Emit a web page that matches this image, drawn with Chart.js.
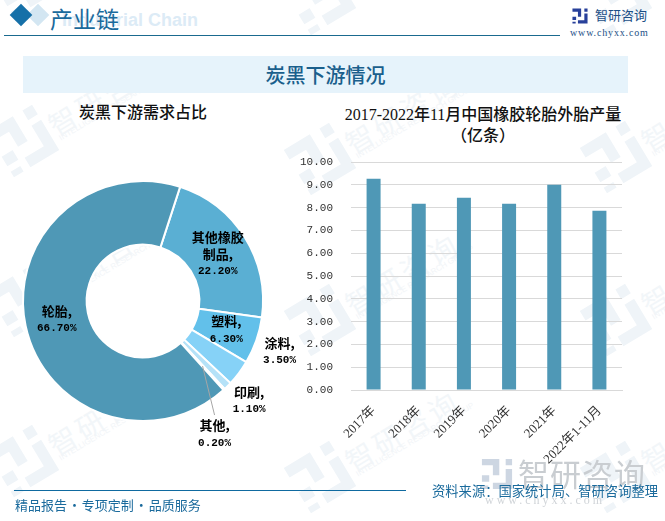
<!DOCTYPE html>
<html lang="zh">
<head>
<meta charset="utf-8">
<title>炭黑下游情况</title>
<script src="https://cdn.jsdelivr.net/npm/chart.js@4"></script>
<style>
html, body { margin: 0; padding: 0; background: #fff; }
#page { position: relative; width: 665px; height: 521px; overflow: hidden; background: #fff;
  font-family: "Noto Sans CJK SC", sans-serif; }
#page > * { position: absolute; }
.wm { color: #f2f6f9; font-size: 28px; line-height: 40px; letter-spacing: 4px; white-space: nowrap; transform: rotate(-31deg); transform-origin: left center; }
.wmSub { color: #f2f5f8; font-size: 8px; line-height: 10px; white-space: nowrap; transform: rotate(-31deg); transform-origin: left center; font-family: "Liberation Sans"; }
.wmLogo { width: 56px; height: 56px; transform: rotate(-31deg); }
.title { text-align: center; color: #111; font-family: "Liberation Serif", "Noto Sans CJK SC"; font-weight: 500; font-size: 16px; line-height: 21px; }
canvas { display: block; }
</style>
</head>
<body>
<div id="page">
  <svg width="0" height="0" style="left:0;top:0"><defs>
    <g id="mark">
      <path d="M1 1H20V19H9V26H1V19H13V8H1Z M27 1H34V8H27Z M27 12H34V34H13V27H27Z M1 30H8V34H1Z" fill="currentColor"/>
    </g>
  </defs></svg>

  <div style="left:30px;top:7px;width:16px;height:16px;background:#d3e6f2;transform:rotate(45deg)"></div>
  <div style="left:13px;top:7px;width:16px;height:16px;background:#1670a8;transform:rotate(45deg)"></div>
  <div style="left:62px;top:10px;font:bold 18px 'Liberation Sans';color:#dcebf6;white-space:nowrap">Industrial Chain</div>
  <div style="left:50px;top:2px;font-size:23px;line-height:32px;color:#1a6a9c;white-space:nowrap">产业链</div>
  <div style="left:4px;top:35px;width:556px;height:1px;background:#1a6a8f"></div>
  <svg style="left:572px;top:8px;color:#28409a" width="16" height="16" viewBox="0 0 35 35"><use href="#mark"/></svg>
  <div style="left:595px;top:5px;font-size:13px;line-height:20px;color:#1c4f86;white-space:nowrap">智研咨询</div>
  <div style="left:570px;top:27px;font:10px 'Liberation Serif';letter-spacing:.85px;color:#1c4f86;white-space:nowrap">www.chyxx.com</div>

  <div style="left:23px;top:56px;width:605px;height:37px;background:#e6f3fb"></div>
  <div style="left:23px;top:56px;width:605px;line-height:37px;text-align:center;font-size:20px;font-weight:500;color:#1a5f8c">炭黑下游情况</div>

  <div class="title" style="left:23px;top:102px;width:240px">炭黑下游需求占比</div>
  <div class="title" style="left:323px;top:104px;width:320px">2017-2022年11月中国橡胶轮胎外胎产量<br>（亿条）</div>

  <div style="left:0;top:160px;width:300px;height:290px"><canvas id="pieCanvas" width="300" height="290"></canvas></div>
  <div style="left:290px;top:150px;width:345px;height:325px"><canvas id="barCanvas" width="345" height="325"></canvas></div>

  <svg style="left:480px;top:458px;color:#cdd6e2" width="34" height="32" viewBox="0 0 35 35"><use href="#mark"/></svg>
  <div style="left:518px;top:452px;font-size:31px;line-height:42px;letter-spacing:1px;color:#c9cdd1;white-space:nowrap">智研咨询</div>
  <div style="left:485px;top:493px;font:12px 'Liberation Serif';letter-spacing:3px;color:#d0d4d8;white-space:nowrap">www.chyxx.com</div>

  <div style="left:14px;top:490px;width:392px;height:1px;background:#0f6aa0"></div>
  <div style="left:15px;top:496px;font-size:13px;line-height:18px;word-spacing:-2px;color:#1a6a9c;white-space:nowrap">精品报告 · 专项定制 · 品质服务</div>
  <div style="left:432px;top:482px;font-size:13.3px;line-height:18px;color:#1a6a9c;white-space:nowrap">资料来源：国家统计局、智研咨询整理</div>
</div>

<script>
// donut
const pieCategories = ['其他橡胶\n制品', '塑料', '涂料', '印刷', '其他', '轮胎'];
const pieValues = [22.2, 6.3, 3.5, 1.1, 0.2, 66.7];
const pieColors = ['#5aafd3', '#62c0ea', '#86d2f7', '#b5e2f8', '#dddddd', '#4f98b6'];
// label shift from the middle of the slice, in px
const labelShift = [[0, 0], [0, 0], [66, -2], [44, 37], [12, 68], [0, 0]];

// bars
const barCategories = ['2017年', '2018年', '2019年', '2020年', '2021年', '2022年1-11月'];
const barValues = [9.27, 8.17, 8.43, 8.17, 9.0, 7.86];

// watermark grid: where each rotated text starts
const wmColumns = [[50, [-33, 127, 287, 447]], [347, [-15, 145, 306, 463]], [643, [-15, 143, 306, 463]]];

const page = document.getElementById('page');
const first = page.firstElementChild;
wmColumns.forEach(([x, rows]) => {
    rows.forEach(y => {
        const logo = document.createElementNS('http://www.w3.org/2000/svg', 'svg');
        logo.setAttribute('viewBox', '0 0 35 35');
        logo.setAttribute('class', 'wmLogo');
        logo.style.left = (x - 55) + 'px';
        logo.style.top = (y - 14) + 'px';
        logo.style.color = '#eff4f8';
        logo.innerHTML = '<use href="#mark"/>';
        page.insertBefore(logo, first);
        const txt = document.createElement('div');
        txt.className = 'wm';
        txt.textContent = '智研咨询';
        txt.style.left = x + 'px';
        txt.style.top = (y - 20) + 'px';
        page.insertBefore(txt, first);
        const sub = document.createElement('div');
        sub.className = 'wmSub';
        sub.textContent = 'INTELLIGENCE RESEARCH GROUP';
        sub.style.left = (x + 10) + 'px';
        sub.style.top = (y + 7) + 'px';
        page.insertBefore(sub, first);
    });
});

// slice labels, Chart.js has no built-in one
const sliceLabels = {
    id: 'sliceLabels',
    afterDatasetsDraw(chart) {
        const ctx = chart.ctx;
        ctx.save();
        ctx.textAlign = 'center';
        ctx.textBaseline = 'middle';
        ctx.fillStyle = '#000';
        chart.getDatasetMeta(0).data.forEach((arc, i) => {
            const p = arc.tooltipPosition();
            const x = p.x + labelShift[i][0];
            const y = p.y + labelShift[i][1];
            if (i === 4) {
                // leader line of the thin slice
                ctx.strokeStyle = '#a6a6a6';
                ctx.lineWidth = 1;
                ctx.beginPath();
                ctx.moveTo(p.x, p.y);
                ctx.lineTo(x, y - 19);
                ctx.stroke();
            }
            const lines = (pieCategories[i] + ',').split('\n');
            lines.push(pieValues[i].toFixed(2) + '%');
            const top = y - (lines.length - 1) * 17.5 / 2;
            lines.forEach((line, k) => {
                ctx.font = k === lines.length - 1
                    ? 'bold 11px "Liberation Mono"'
                    : 'bold 13px "Noto Sans CJK SC"';
                ctx.fillText(line, x, top + k * 17.5);
            });
        });
        ctx.restore();
    }
};

new Chart(document.getElementById('pieCanvas'), {
    type: 'doughnut',
    data: {
        labels: pieCategories,
        datasets: [{ data: pieValues, backgroundColor: pieColors, borderColor: '#fff', borderWidth: 2 }]
    },
    options: {
        responsive: false,
        animation: false,
        rotation: 18,
        cutout: '47%',
        layout: { padding: { left: 22, right: 36, top: 20, bottom: 28 } },
        plugins: { legend: { display: false }, tooltip: { enabled: false } }
    },
    plugins: [sliceLabels]
});

new Chart(document.getElementById('barCanvas'), {
    type: 'bar',
    data: {
        labels: barCategories,
        datasets: [{ data: barValues, backgroundColor: '#4f98b6', barPercentage: 0.31, categoryPercentage: 1 }]
    },
    options: {
        responsive: false,
        animation: false,
        layout: { padding: { top: 12, right: 13 } },
        plugins: { legend: { display: false }, tooltip: { enabled: false } },
        scales: {
            x: {
                afterFit(scale) { scale.height = 85; },
                grid: { display: false },
                border: { color: '#d9d9d9' },
                ticks: {
                    minRotation: 45, maxRotation: 45, autoSkip: false, padding: 5, color: '#333',
                    font: { family: '"Liberation Serif", "Noto Sans CJK SC"', size: 13 }
                }
            },
            y: {
                min: 0, max: 10,
                // tick padding also gets added above the axis otherwise
                afterFit(scale) { scale.width = 61; scale.paddingTop = 0; scale.paddingBottom = 0; },
                border: { display: false },
                grid: { color: '#d9d9d9', tickLength: 0 },
                ticks: {
                    stepSize: 1, padding: 18, color: '#333',
                    font: { family: '"Liberation Mono"', size: 11 },
                    callback: v => v.toFixed(2)
                }
            }
        }
    }
});
</script>
</body>
</html>
